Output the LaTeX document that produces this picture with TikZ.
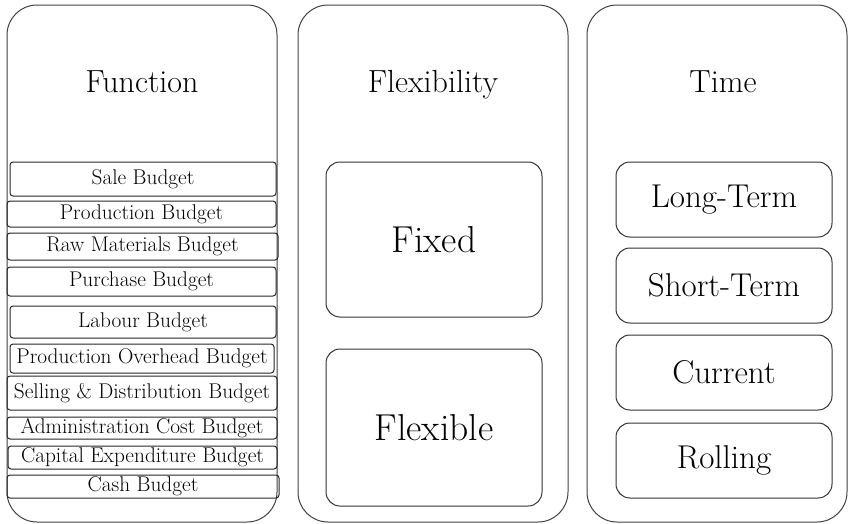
\documentclass[tikz,border=0pt]{standalone}
\begin{document}
\begin{tikzpicture}[x=1pt,y=-1pt,
  outerbox/.style={draw=black!75, line width=1pt, rounded corners=30pt, inner sep=0pt},
  bigbox/.style={draw=black!80, line width=1pt, rounded corners=14pt, inner sep=0pt, minimum width=216pt},
  smallbox/.style={draw=black!85, line width=1pt, rounded corners=3pt, inner sep=0pt, font=\fontsize{21.3}{23}\selectfont},
  headtext/.style={anchor=base, font=\fontsize{32}{36}\selectfont},
  flextext/.style={font=\fontsize{37.5}{40}\selectfont},
  timetext/.style={font=\fontsize{33}{36}\selectfont}]
\useasboundingbox (0,0) rectangle (849,523);
% outer columns
\node[outerbox, minimum width=270pt, minimum height=517pt] (colF) at (142,263.5) {};
\node[outerbox, minimum width=270pt, minimum height=517pt] (colX) at (433,263.5) {};
\node[outerbox, minimum width=260pt, minimum height=517pt] (colT) at (717,263.5) {};
% headings
\node[headtext] (hF) at (142,92) {Function};
\node[headtext] (hX) at (433,92) {Flexibility};
\node[headtext] (hT) at (723,92) {Time};
% function budgets
\node[smallbox, minimum width=266pt, minimum height=34pt] (b1) at (143,179) {Sale Budget};
\node[smallbox, minimum width=269pt, minimum height=26pt] (b2) at (141.5,214) {Production Budget};
\node[smallbox, minimum width=271pt, minimum height=27pt] (b3) at (142.5,246.5) {Raw Materials Budget};
\node[smallbox, minimum width=269pt, minimum height=29pt] (b4) at (141.5,281.5) {Purchase Budget};
\node[smallbox, minimum width=266pt, minimum height=32pt] (b5) at (143,322) {Labour Budget};
\node[smallbox, minimum width=264pt, minimum height=29pt] (b6) at (142,358.5) {Production Overhead Budget};
\node[smallbox, minimum width=270pt, minimum height=34pt] (b7) at (142,393) {Selling \& Distribution Budget};
\node[smallbox, minimum width=270pt, minimum height=22pt] (b8) at (142,428) {Administration Cost Budget};
\node[smallbox, minimum width=269pt, minimum height=23pt] (b9) at (142.5,457.5) {Capital Expenditure Budget};
\node[smallbox, minimum width=272pt, minimum height=23pt] (b10) at (143,486.5) {Cash Budget};
% flexibility
\node[bigbox, minimum height=155pt, flextext] (fixed) at (434,239.5) {Fixed};
\node[bigbox, minimum height=157pt, flextext] (flexible) at (434,427.5) {Flexible};
% time
\node[bigbox, minimum height=75pt, timetext] (long) at (724,199.5) {Long-Term};
\node[bigbox, minimum height=75pt, timetext] (short) at (724,285.5) {Short-Term};
\node[bigbox, minimum height=75pt, timetext] (current) at (724,372.5) {Current};
\node[bigbox, minimum height=75pt, timetext] (rolling) at (724,460.5) {Rolling};
\end{tikzpicture}
\end{document}
